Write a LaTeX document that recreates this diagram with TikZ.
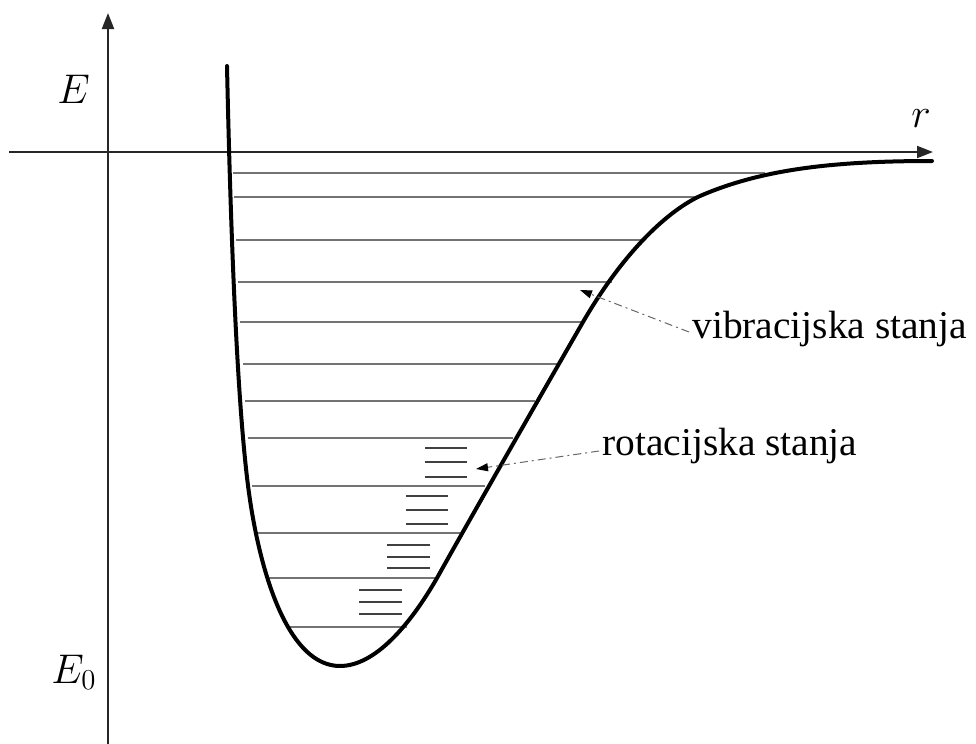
\documentclass[tikz,border=0pt]{standalone}
\usepackage{fontspec}
\setmainfont{Liberation Serif}
\usetikzlibrary{arrows.meta,calc}
\begin{document}
\begin{tikzpicture}[x=0.5pt,y=-0.5pt,
  axis/.style={line width=1pt, draw=black!85, -{Triangle[length=8pt,width=6pt]}},
  curve/.style={line width=2pt, draw=black, line join=round, line cap=round},
  vlev/.style={line width=0.6pt, draw=black!55},
  rlev/.style={line width=0.7pt, draw=black!75},
  leader/.style={line width=0.5pt, draw=black!60, dash pattern=on 4pt off 2pt on 1pt off 2pt, -{Triangle[length=6pt,width=4pt,black]}},
  lbl/.style={inner sep=0pt, font=\fontsize{19.7pt}{24pt}\selectfont},
]
\useasboundingbox (0,0) rectangle (976,744);

% axes
\coordinate (xs) at (9,152);
\coordinate (xe) at (933,152);
\coordinate (ys) at (108,744);
\coordinate (ye) at (108,13);
\draw[axis] (xs) -- (xe);
\draw[axis] (ys) -- (ye);

% vibrational levels
\foreach \yy/\xl/\xr in {173/233/765, 197/234/697, 240/236/645, 282/238/612,
  322/240/583, 364/243/558, 401/245/535, 438/248/513, 486/252/485,
  533/256/460, 578/268/437, 627/290/407}
  \draw[vlev] (\xl,\yy) -- (\xr,\yy);

% rotational levels
\foreach \xl/\xr/\ya/\yb/\yc in {425/467/448/462/477, 406/448/496/510/524,
  387/430/545/557/568, 359/402/590/602/614}
{
  \draw[rlev] (\xl,\ya) -- (\xr,\ya);
  \draw[rlev] (\xl,\yb) -- (\xr,\yb);
  \draw[rlev] (\xl,\yc) -- (\xr,\yc);
}

% potential curve
\draw[curve] (227,66) .. controls (231,250) and (238,420) .. (250,500)
  .. controls (262,580) and (290,666) .. (340,666)
  .. controls (375,666) and (410,625) .. (437,578)
  .. controls (475,510) and (537,402) .. (583,322)
  .. controls (626,248) and (670,210) .. (700,196)
  .. controls (760,170) and (830,161) .. (932,161);

% labels
\node[lbl, anchor=base west] (E) at (57,103) {$E$};
\node[lbl, anchor=base west] (E0) at (51,683) {$E_0$};
\node[lbl, anchor=base west] (r) at (911,127) {$r$};
\node[lbl, anchor=base west] (vib) at (692,338) {vibracijska stanja};
\node[lbl, anchor=base west] (rot) at (602,455) {rotacijska stanja};

% leaders
\coordinate (vt) at (580,290);
\coordinate (rt) at (476,469);
\draw[leader] ($(vib.base west)+(-3,-6)$) -- (vt);
\draw[leader] ($(rot.base west)+(-3,-4)$) -- (rt);
\end{tikzpicture}
\end{document}
